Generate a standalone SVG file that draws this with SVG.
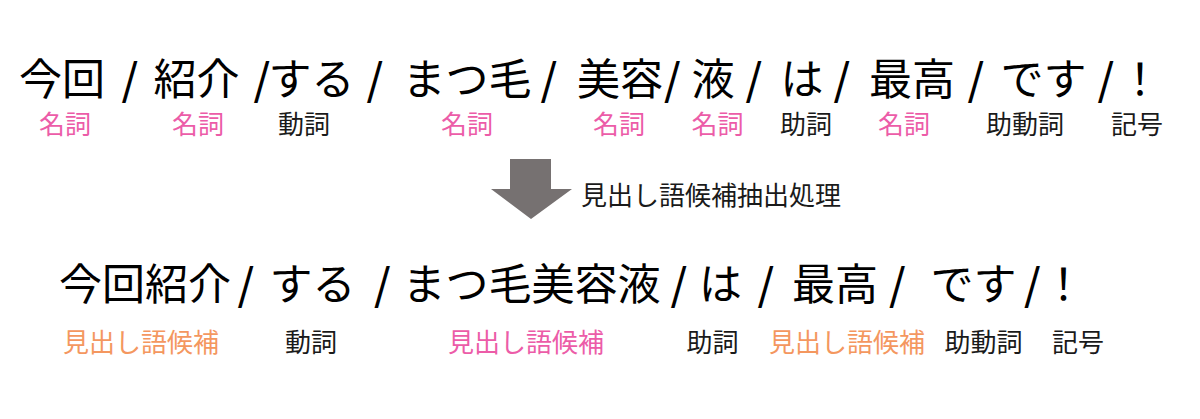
<svg xmlns="http://www.w3.org/2000/svg" width="1200" height="419" viewBox="0 0 1200 419">
<style>
text{font-family:"Noto Sans CJK JP","Noto Sans",sans-serif;text-anchor:middle}
.m{font-size:43px;font-weight:400;fill:#000}
.s{font-weight:500}
.l{font-size:26px}
.k{fill:#1a1a1a}
.p{fill:#EC5CA8}
.o{fill:#F4975F}
.arrow{fill:#767171}
</style>
<rect width="1200" height="419" fill="#fff"/>
<g id="row1">
<text class="m" x="62" y="95">今回</text>
<text class="m s" x="130" y="95">/</text>
<text class="m" x="196.5" y="95">紹介</text>
<text class="m s" x="262" y="95">/</text>
<text class="m" x="311.5" y="95">する</text>
<text class="m s" x="375" y="95">/</text>
<text class="m" x="467" y="95">まつ毛</text>
<text class="m s" x="549" y="95">/</text>
<text class="m" x="620" y="95">美容</text>
<text class="m s" x="672.5" y="95">/</text>
<text class="m" x="713" y="95">液</text>
<text class="m s" x="754" y="95">/</text>
<text class="m" x="802" y="95">は</text>
<text class="m s" x="842" y="95">/</text>
<text class="m" x="912" y="95">最高</text>
<text class="m s" x="976" y="95">/</text>
<text class="m" x="1043.5" y="95">です</text>
<text class="m s" x="1106" y="95">/</text>
<text class="m" x="1140" y="95">！</text>
</g>
<g id="row1-labels">
<text class="l p" x="65" y="134">名詞</text>
<text class="l p" x="198" y="134">名詞</text>
<text class="l k" x="304" y="134">動詞</text>
<text class="l p" x="467" y="134">名詞</text>
<text class="l p" x="619" y="134">名詞</text>
<text class="l p" x="717.5" y="134">名詞</text>
<text class="l k" x="806" y="134">助詞</text>
<text class="l p" x="904" y="134">名詞</text>
<text class="l k" x="1025" y="134">助動詞</text>
<text class="l k" x="1137" y="134">記号</text>
</g>
<g id="connectors">
<polygon class="arrow" points="510,159 551,159 551,189 572,189 531,219 491,189 510,189"/>
</g>
<g id="process-label">
<text class="l k" x="711" y="205">見出し語候補抽出処理</text>
</g>
<g id="row2">
<text class="m" x="145" y="300">今回紹介</text>
<text class="m s" x="246" y="300">/</text>
<text class="m" x="312.5" y="300">する</text>
<text class="m s" x="382.5" y="300">/</text>
<text class="m" x="531.5" y="300">まつ毛美容液</text>
<text class="m s" x="679" y="300">/</text>
<text class="m" x="720.5" y="300">は</text>
<text class="m s" x="766" y="300">/</text>
<text class="m" x="835" y="300">最高</text>
<text class="m s" x="897.5" y="300">/</text>
<text class="m" x="973.5" y="300">です</text>
<text class="m s" x="1032.5" y="300">/</text>
<text class="m" x="1063.5" y="300">！</text>
</g>
<g id="row2-labels">
<text class="l o" x="141" y="352">見出し語候補</text>
<text class="l k" x="311" y="352">動詞</text>
<text class="l p" x="526" y="352">見出し語候補</text>
<text class="l k" x="712.5" y="352">助詞</text>
<text class="l o" x="847" y="352">見出し語候補</text>
<text class="l k" x="983.5" y="352">助動詞</text>
<text class="l k" x="1078" y="352">記号</text>
</g>
</svg>
